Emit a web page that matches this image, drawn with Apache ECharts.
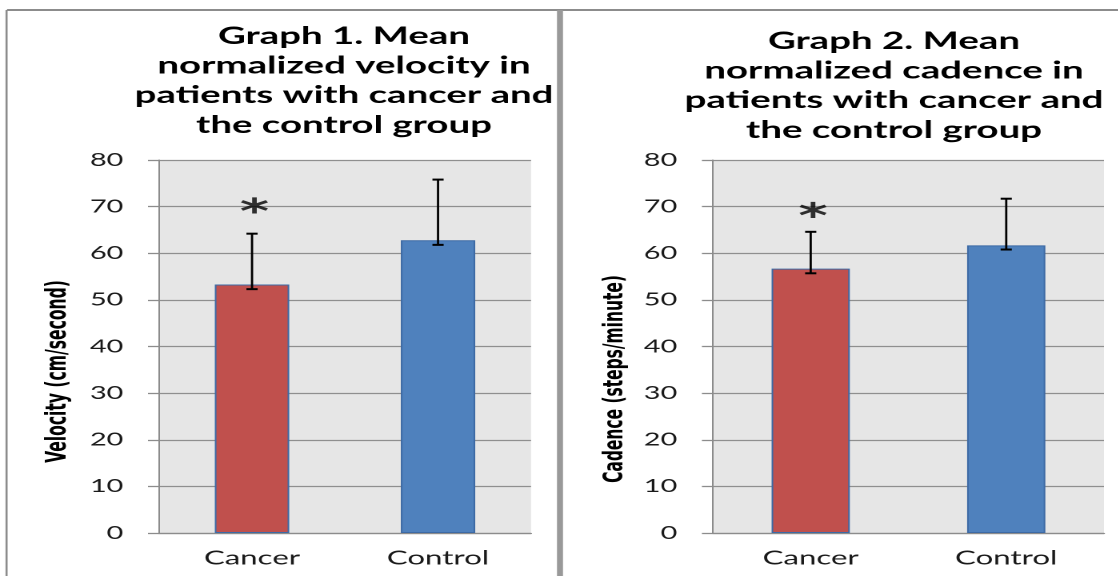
<!DOCTYPE html>
<html>
<head>
<meta charset="utf-8">
<script src="https://cdn.jsdelivr.net/npm/echarts@6/dist/echarts.min.js"></script>
<style>
  html, body { margin: 0; padding: 0; background: #fff; overflow: hidden; }
  #wrap { width: 1118px; height: 576px; overflow: hidden; }
  #chart { width: 698.75px; height: 576px; transform: scaleX(1.6); transform-origin: 0 0; }
</style>
</head>
<body>
<div id="wrap"><div id="chart"></div></div>
<script>
// ---- data ----
const categories = ['Cancer', 'Control'];
const barColors = ['#C0504D', '#4F81BD'];

const velocityMean = [53.3, 62.8];
const velocityErrLow = [52.3, 61.8];
const velocityErrHigh = [64.2, 75.8];
const velocityStar = [70.3, null];

const cadenceMean = [56.7, 61.7];
const cadenceErrLow = [55.7, 60.8];
const cadenceErrHigh = [64.6, 71.7];
const cadenceStar = [69.3, null];

const yTicks = { min: 0, max: 80, interval: 10 };

const titleLeft = 'Graph 1. Mean\nnormalized velocity in\npatients with cancer and\nthe control group';
const titleRight = 'Graph 2. Mean\nnormalized cadence in\npatients with cancer and\nthe control group';
const yNameLeft = 'Velocity (cm/second)';
const yNameRight = 'Cadence (steps/minute)';

// ---- layout (unscaled; page is stretched by 1.6 horizontally) ----
const S = 1.6;

const mctx = document.createElement('canvas').getContext('2d');
function hasFont(fam) {
  mctx.font = 'bold 100px monospace';
  const a = mctx.measureText('Velocity (cm/second) abcdefg').width;
  mctx.font = "bold 100px '" + fam + "', monospace";
  const b = mctx.measureText('Velocity (cm/second) abcdefg').width;
  return Math.abs(a - b) > 0.5;
}
const nameFamilies = ['Liberation Sans Narrow', 'DejaVu Sans Condensed', 'DejaVu Sans'];
const nameFamily = nameFamilies.find(hasFont) || 'sans-serif';
function fitSize(text, target) {
  mctx.font = "bold 100px '" + nameFamily + "', sans-serif";
  return Math.min(26, 100 * target / mctx.measureText(text).width);
}

const chart = echarts.init(document.getElementById('chart'), null, { renderer: 'canvas', devicePixelRatio: 2 });

function barData(vals) {
  return vals.map((v, i) => ({ value: v, itemStyle: { color: barColors[i] } }));
}
function errData(lo, hi) {
  return lo.map((l, i) => [i, l, hi[i]]);
}
function starData(arr) {
  return arr.map(v => (v == null ? '-' : v));
}
function renderErr(params, api) {
  const x = api.value(0);
  const lo = api.coord([x, api.value(1)]);
  const hi = api.coord([x, api.value(2)]);
  const hw = 3.5;
  const stem = { stroke: '#000', lineWidth: 1.4 };
  const cap = { stroke: '#000', lineWidth: 2 };
  return {
    type: 'group',
    children: [
      { type: 'line', shape: { x1: lo[0], y1: lo[1], x2: hi[0], y2: hi[1] }, style: stem },
      { type: 'line', shape: { x1: hi[0] - hw, y1: hi[1], x2: hi[0] + hw, y2: hi[1] }, style: cap },
      { type: 'line', shape: { x1: lo[0] - hw, y1: lo[1], x2: lo[0] + hw, y2: lo[1] }, style: cap }
    ]
  };
}

const gridLine = '#8f8f8f';
function yAxis(idx, name, gap, pad, len) {
  return {
    type: 'value', gridIndex: idx,
    min: yTicks.min, max: yTicks.max, interval: yTicks.interval,
    name: name, nameLocation: 'middle', nameRotate: 90, nameGap: gap,
    nameTextStyle: { fontFamily: nameFamily, fontWeight: 'bold', fontSize: fitSize(name, len), color: '#000', padding: [0, pad, 0, 0] },
    axisLine: { show: true, lineStyle: { color: '#8c8c8c', width: 1 } },
    axisTick: { show: true, inside: false, length: 6.9, lineStyle: { color: '#8c8c8c', width: 1.3 } },
    axisLabel: { margin: 22.3, fontFamily: 'Lato', fontSize: 18, color: '#1a1a1a' },
    splitLine: { show: true, lineStyle: { color: gridLine, width: 1.3 } }
  };
}
function xAxis(idx) {
  return {
    type: 'category', gridIndex: idx, data: categories,
    axisLine: { show: true, lineStyle: { color: '#8c8c8c', width: 1.3 } },
    axisTick: { show: false },
    axisLabel: { margin: 15, fontFamily: 'Lato', fontSize: 19.5, color: '#1a1a1a' },
    splitLine: { show: false }
  };
}
const starLabel = {
  show: true, position: 'inside', formatter: '*', offset: [1.5, 8.5],
  fontFamily: 'DejaVu Sans', fontWeight: 'bold', fontSize: 35, color: '#000'
};
const titleStyle = { fontFamily: 'Lato', fontWeight: 'bold', fontSize: 24, lineHeight: 29.6, color: '#000' };

chart.setOption({
  animation: false,
  backgroundColor: '#fff',
  title: [
    { text: titleLeft, left: 215, top: 21.5, textAlign: 'center', padding: 0, textStyle: titleStyle },
    { text: titleRight, left: 558.75, top: 26.5, textAlign: 'center', padding: 0, textStyle: titleStyle }
  ],
  grid: [
    { left: 99.4, width: 232.5, top: 160, height: 373, show: true, backgroundColor: '#E6E6E6', borderWidth: 0 },
    { left: 445.6, width: 244.4, top: 160, height: 373, show: true, backgroundColor: '#E6E6E6', borderWidth: 0 }
  ],
  xAxis: [xAxis(0), xAxis(1)],
  yAxis: [yAxis(0, yNameLeft, 54.5, 50, 183), yAxis(1, yNameRight, 52.5, 65, 208)],
  series: [
    { type: 'bar', xAxisIndex: 0, yAxisIndex: 0, barWidth: '40%', data: barData(velocityMean),
      itemStyle: { borderColor: '#3D6AA5', borderWidth: 1 } },
    { type: 'custom', xAxisIndex: 0, yAxisIndex: 0, renderItem: renderErr, data: errData(velocityErrLow, velocityErrHigh), z: 5 },
    { type: 'scatter', xAxisIndex: 0, yAxisIndex: 0, symbolSize: 0.1, itemStyle: { color: 'rgba(0,0,0,0)' },
      label: starLabel, data: starData(velocityStar), z: 6 },
    { type: 'bar', xAxisIndex: 1, yAxisIndex: 1, barWidth: '40%', data: barData(cadenceMean),
      itemStyle: { borderColor: '#3D6AA5', borderWidth: 1 } },
    { type: 'custom', xAxisIndex: 1, yAxisIndex: 1, renderItem: renderErr, data: errData(cadenceErrLow, cadenceErrHigh), z: 5 },
    { type: 'scatter', xAxisIndex: 1, yAxisIndex: 1, symbolSize: 0.1, itemStyle: { color: 'rgba(0,0,0,0)' },
      label: starLabel, data: starData(cadenceStar), z: 6 }
  ],
  graphic: [
    { type: 'line', shape: { x1: 4.4, y1: 10, x2: 700, y2: 10 }, style: { stroke: '#8c8c8c', lineWidth: 2 }, silent: true },
    { type: 'line', shape: { x1: 4.1, y1: 10, x2: 4.1, y2: 576 }, style: { stroke: '#8c8c8c', lineWidth: 1.3 }, silent: true },
    { type: 'rect', shape: { x: 557 / S, y: 10, width: 6 / S, height: 566 }, style: { fill: '#999' }, silent: true }
  ]
});
</script>
</body>
</html>
